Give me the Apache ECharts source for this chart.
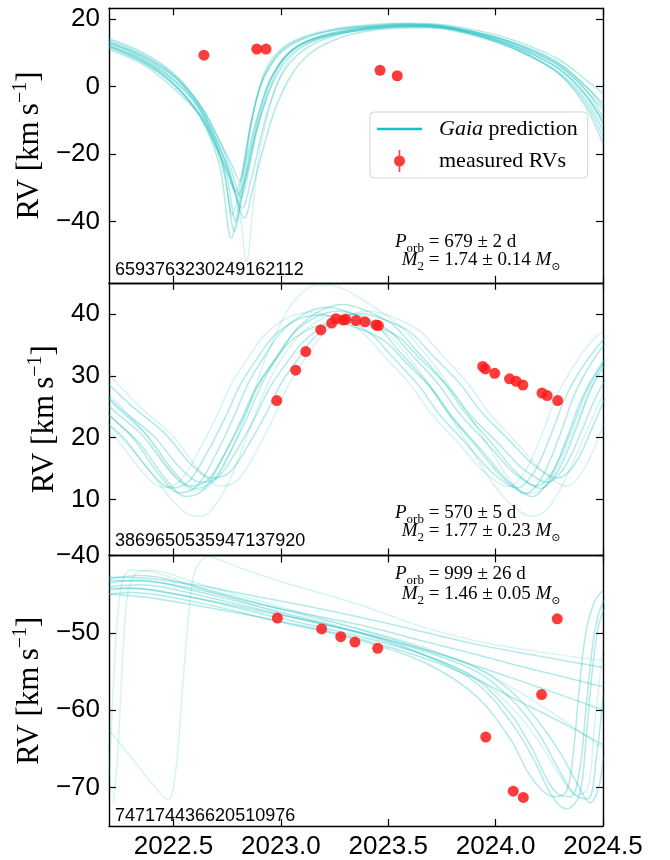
<!DOCTYPE html>
<html>
<head>
<meta charset="utf-8">
<script src="https://cdn.jsdelivr.net/npm/echarts@6/dist/echarts.min.js"></script>
<style>
html,body{margin:0;padding:0;background:#fff;}
#chart{width:670px;height:860px;}
</style>
</head>
<body>
<div id="chart"></div>
<script>
// ---------------- data ----------------
const xTicks = [2022.5, 2023.0, 2023.5, 2024.0, 2024.5];
const yTicks1 = [-40, -20, 0, 20];
const yTicks2 = [10, 20, 30, 40];
const yTicks3 = [-70, -60, -50, -40];
const sourceIds = ['6593763230249162112', '3869650535947137920', '747174436620510976'];
const porbText = ['679 ± 2', '570 ± 5', '999 ± 26'];
const m2Text = ['1.74 ± 0.14', '1.77 ± 0.23', '1.46 ± 0.05'];

// measured RVs [year, km/s]
const rv1 = [[2022.642,9.3],[2022.888,11.1],[2022.931,11.1],[2023.462,4.8],[2023.542,3.2]];
const rv2 = [[2022.981,26.0],[2023.069,30.9],[2023.116,33.9],[2023.186,37.4],[2023.237,38.5],[2023.257,39.2],
  [2023.291,39.0],[2023.303,39.1],[2023.35,38.9],[2023.392,38.7],[2023.443,38.2],[2023.454,38.1],
  [2023.94,31.5],[2023.952,31.1],[2023.996,30.4],[2024.065,29.5],[2024.096,29.1],[2024.127,28.5],
  [2024.216,27.2],[2024.24,26.8],[2024.289,26.0]];
const rv3 = [[2022.984,-48.1],[2023.19,-49.5],[2023.279,-50.5],[2023.345,-51.2],[2023.451,-52.0],
  [2023.954,-63.5],[2024.082,-70.5],[2024.129,-71.3],[2024.214,-58.0],[2024.287,-48.2]];

// Gaia prediction curves [year, km/s]
const gaia1 = [
  [[2022.2,12.9],[2022.36,8.4],[2022.515,1.5],[2022.624,-6.4],[2022.701,-16.3],[2022.755,-24.2],[2022.8,-32],[2022.84,-26.2],[2022.872,-16.3],[2022.911,-6.4],[2022.965,3.5],[2023.043,10.4],[2023.136,13.9],[2023.29,16.4],[2023.45,17.8],[2023.6,18.3],[2023.756,17.8],[2023.99,14.4],[2024.145,10.9],[2024.3,6.0],[2024.424,-1.4],[2024.5,-9]],
  [[2022.2,13.8],[2022.36,9.5],[2022.5,3.5],[2022.6,-4.5],[2022.68,-14],[2022.73,-23],[2022.775,-38],[2022.81,-30],[2022.84,-18],[2022.87,-8],[2022.92,2.5],[2023.0,10],[2023.1,14],[2023.25,16.8],[2023.45,18.2],[2023.6,18.6],[2023.75,18.1],[2023.98,15],[2024.15,11.5],[2024.3,6.8],[2024.42,0],[2024.5,-5]],
  [[2022.2,12.2],[2022.36,7.6],[2022.5,1],[2022.6,-6.5],[2022.67,-15],[2022.72,-25],[2022.77,-45],[2022.81,-33],[2022.85,-19],[2022.9,-7],[2022.95,2],[2023.03,9.5],[2023.13,13.5],[2023.3,16.4],[2023.5,17.8],[2023.65,18],[2023.8,17.2],[2024.0,14],[2024.15,10.3],[2024.3,5.2],[2024.42,-2.5],[2024.5,-11]],
  [[2022.2,11.6],[2022.36,7],[2022.5,0.5],[2022.62,-8],[2022.7,-18],[2022.76,-27],[2022.82,-36],[2022.86,-28],[2022.9,-17],[2022.94,-7],[2023.0,3],[2023.08,9.5],[2023.18,13.5],[2023.32,16.2],[2023.5,17.6],[2023.65,17.9],[2023.8,17],[2024.0,13.5],[2024.15,9.5],[2024.3,4],[2024.42,-4],[2024.5,-13]],
  [[2022.2,11],[2022.36,6.5],[2022.5,-0.5],[2022.63,-9],[2022.71,-19],[2022.77,-28],[2022.83,-39],[2022.87,-30],[2022.92,-18],[2022.975,-6.4],[2023.05,3.5],[2023.13,9.5],[2023.22,13],[2023.35,15.8],[2023.55,17.3],[2023.7,17.4],[2023.85,16.2],[2024.02,13],[2024.17,8.8],[2024.3,3.5],[2024.42,-5],[2024.5,-15]],
  [[2022.2,13.3],[2022.36,9],[2022.52,2.2],[2022.63,-6],[2022.71,-15.5],[2022.77,-23],[2022.81,-28],[2022.835,-22],[2022.86,-12],[2022.89,-3],[2022.93,4],[2023.0,10.5],[2023.1,14.2],[2023.26,16.8],[2023.45,18],[2023.6,18.4],[2023.76,17.9],[2023.99,14.8],[2024.15,11.3],[2024.3,6.5],[2024.43,-0.5],[2024.5,-6]],
  [[2022.2,12.5],[2022.36,8],[2022.515,1.2],[2022.63,-7],[2022.71,-17],[2022.77,-27],[2022.81,-38],[2022.84,-52],[2022.87,-36],[2022.9,-20],[2022.94,-8],[2022.99,2],[2023.06,9.5],[2023.15,13.4],[2023.3,16],[2023.5,17.6],[2023.65,17.8],[2023.8,16.9],[2024.0,13.8],[2024.15,10],[2024.3,4.8],[2024.42,-3],[2024.5,-11]],
  [[2022.2,12],[2022.36,7.8],[2022.51,1.2],[2022.62,-7],[2022.7,-17.5],[2022.75,-27],[2022.79,-40],[2022.825,-30],[2022.86,-18],[2022.9,-7.5],[2022.95,2],[2023.02,9],[2023.12,13.2],[2023.28,16],[2023.45,17.6],[2023.6,18],[2023.77,17.4],[2023.99,14],[2024.15,10.2],[2024.3,5],[2024.42,-2.5],[2024.5,-10]],
  [[2022.2,13],[2022.36,8.8],[2022.52,2],[2022.64,-7],[2022.72,-17],[2022.77,-25],[2022.815,-33],[2022.85,-25],[2022.885,-14],[2022.93,-4],[2022.985,5],[2023.06,11],[2023.16,14.5],[2023.3,16.8],[2023.48,18],[2023.62,18.3],[2023.78,17.6],[2024.0,14.6],[2024.15,11],[2024.3,6],[2024.42,-1],[2024.5,-7]],
  [[2022.2,11.8],[2022.36,7.2],[2022.5,0.8],[2022.61,-7.5],[2022.69,-17],[2022.74,-27],[2022.785,-43],[2022.82,-32],[2022.86,-20],[2022.91,-8],[2022.97,2],[2023.05,9.6],[2023.15,13.5],[2023.3,16],[2023.5,17.5],[2023.65,17.7],[2023.8,16.6],[2024.0,13.2],[2024.15,9.2],[2024.3,3.5],[2024.42,-6],[2024.5,-17]],
  [[2022.2,14.2],[2022.36,10],[2022.5,4],[2022.6,-3.5],[2022.68,-13],[2022.74,-22],[2022.79,-31],[2022.825,-24],[2022.855,-13],[2022.885,-4],[2022.93,5],[2023.0,11],[2023.1,14.6],[2023.26,17.2],[2023.45,18.5],[2023.6,18.8],[2023.76,18.3],[2023.99,15.5],[2024.15,12.2],[2024.3,7.8],[2024.43,1.5],[2024.5,-2]]
];
const gaia2 = [
  [[2022.0,32.5],[2022.2,25.1],[2022.36,20.2],[2022.48,14.8],[2022.58,12.2],[2022.66,13.2],[2022.75,18.1],[2022.83,23.5],[2022.9,28.8],[2022.98,33.1],[2023.06,36.9],[2023.17,39.6],[2023.27,40.4],[2023.37,39.6],[2023.5,37.4],[2023.6,33.7],[2023.73,28.8],[2023.83,24.0],[2023.96,19.1],[2024.07,14.8],[2024.15,12.7],[2024.19,12.2],[2024.27,14.8],[2024.35,21.0],[2024.42,27.2],[2024.5,32.0],[2024.6,36.5]],
  [[2021.91,32],[2022.11,24.8],[2022.27,19.9],[2022.39,14.6],[2022.49,11.9],[2022.57,12.9],[2022.66,17.8],[2022.74,23.2],[2022.81,28.5],[2022.89,32.8],[2022.97,36.5],[2023.08,39.1],[2023.18,39.8],[2023.28,39.1],[2023.41,37],[2023.51,33.4],[2023.64,28.5],[2023.74,23.7],[2023.87,18.8],[2023.98,14.5],[2024.06,12.4],[2024.1,11.9],[2024.18,14.5],[2024.26,20.7],[2024.33,26.9],[2024.41,31.7],[2024.51,36.2]],
  [[2021.95,32.8],[2022.15,25.3],[2022.31,20],[2022.43,14.2],[2022.53,11.1],[2022.61,12.2],[2022.7,17.5],[2022.78,23.3],[2022.85,28.9],[2022.93,33.5],[2023.01,37.4],[2023.12,40.2],[2023.22,41],[2023.32,40.2],[2023.45,37.9],[2023.55,34],[2023.68,28.9],[2023.78,23.9],[2023.91,18.6],[2024.02,14],[2024.1,11.6],[2024.14,11],[2024.22,13.9],[2024.3,20.5],[2024.37,27.2],[2024.45,32.3],[2024.55,37]],
  [[2022.05,31.8],[2022.25,24.8],[2022.41,20.2],[2022.53,15.2],[2022.63,12.8],[2022.71,13.7],[2022.8,18.3],[2022.88,23.3],[2022.95,28.2],[2023.03,32.2],[2023.11,35.7],[2023.22,38.3],[2023.32,39],[2023.42,38.3],[2023.55,36.2],[2023.65,32.7],[2023.78,28.2],[2023.88,23.7],[2024.01,19.2],[2024.12,15.2],[2024.2,13.3],[2024.24,12.8],[2024.32,15.2],[2024.4,21],[2024.47,26.8],[2024.55,31.4]],
  [[2022.1,32],[2022.3,25.3],[2022.46,20.7],[2022.58,15.8],[2022.68,13.5],[2022.76,14.4],[2022.85,18.9],[2022.93,23.8],[2023.0,28.7],[2023.08,32.7],[2023.16,36.3],[2023.27,39.2],[2023.37,40],[2023.47,39.2],[2023.6,37.1],[2023.7,33.5],[2023.83,28.9],[2023.93,24.3],[2024.06,19.7],[2024.17,15.8],[2024.25,13.9],[2024.29,13.5],[2024.37,15.8],[2024.45,21.6],[2024.52,27.3]],
  [[2021.98,31.8],[2022.18,24.3],[2022.34,19.2],[2022.46,13.5],[2022.56,10.5],[2022.64,11.6],[2022.73,16.8],[2022.81,22.5],[2022.88,27.8],[2022.96,31.9],[2023.04,35.4],[2023.15,37.8],[2023.25,38.5],[2023.35,37.8],[2023.48,35.7],[2023.58,32.2],[2023.71,27.6],[2023.81,22.9],[2023.94,17.8],[2024.05,13.3],[2024.13,11.1],[2024.17,10.5],[2024.25,13.3],[2024.33,19.8],[2024.4,26.3],[2024.48,31.3],[2024.58,35.8]],
  [[2022.02,33.2],[2022.22,25.5],[2022.38,20.3],[2022.5,14.6],[2022.6,11.8],[2022.68,12.9],[2022.77,18.1],[2022.85,23.8],[2022.92,29.3],[2023.0,33.8],[2023.08,37.8],[2023.19,40.6],[2023.29,41.5],[2023.39,40.6],[2023.52,38.3],[2023.62,34.5],[2023.75,29.4],[2023.85,24.4],[2023.98,19.2],[2024.09,14.6],[2024.17,12.3],[2024.21,11.8],[2024.29,14.6],[2024.37,21],[2024.44,27.5],[2024.52,32.5]],
  [[2022.2,27],[2022.36,21],[2022.5,14],[2022.6,11.5],[2022.68,12.5],[2022.77,18],[2022.85,25],[2022.93,33],[2023.0,38.5],[2023.06,42],[2023.17,44.7],[2023.27,44.3],[2023.37,42.5],[2023.5,39.5],[2023.6,36.5],[2023.73,31],[2023.85,25],[2023.96,19],[2024.06,13.5],[2024.14,11],[2024.2,11.3],[2024.27,14],[2024.35,20],[2024.43,27],[2024.5,32]],
  [[2022.2,22],[2022.36,16],[2022.48,10.5],[2022.56,7.8],[2022.62,7.3],[2022.68,8.5],[2022.76,13],[2022.85,21],[2022.95,29.5],[2023.06,35.5],[2023.18,39],[2023.3,40],[2023.4,39],[2023.52,36],[2023.64,31],[2023.76,25],[2023.88,18.5],[2023.99,12.5],[2024.08,9],[2024.17,7.3],[2024.24,8.5],[2024.32,13],[2024.41,20],[2024.5,27]],
  [[2021.87,32],[2022.07,25],[2022.23,20],[2022.35,14.7],[2022.45,12],[2022.53,13],[2022.62,18],[2022.7,23.4],[2022.77,28.7],[2022.85,33],[2022.93,36.8],[2023.04,39.5],[2023.14,40.3],[2023.24,39.5],[2023.37,37.3],[2023.47,33.6],[2023.6,28.7],[2023.7,23.9],[2023.83,19],[2023.94,14.7],[2024.02,12.6],[2024.06,12.1],[2024.14,14.7],[2024.22,20.9],[2024.29,27.1],[2024.37,31.9],[2024.47,36.4],[2024.6,38.5]],
  [[2022.14,32.5],[2022.34,25.1],[2022.5,20.2],[2022.62,14.8],[2022.72,12.2],[2022.8,13.2],[2022.89,18.1],[2022.97,23.5],[2023.04,28.8],[2023.12,33.1],[2023.2,36.9],[2023.31,39.6],[2023.41,40.4],[2023.51,39.6],[2023.64,37.4],[2023.74,33.7],[2023.87,28.8],[2023.97,24.0],[2024.1,19.1],[2024.21,14.8],[2024.29,12.7],[2024.33,12.2],[2024.41,14.8],[2024.49,21],[2024.56,27.2]]
];
const gaia3 = [
  [[2022.2,-42.8],[2022.4,-43],[2022.98,-45.8],[2023.37,-48],[2023.68,-50],[2023.91,-51.5],[2024.2,-53],[2024.5,-54.5]],
  [[2022.2,-43.2],[2022.4,-43.4],[2022.98,-46.8],[2023.37,-49],[2023.68,-51.2],[2023.91,-52.8],[2024.07,-54],[2024.3,-55.6],[2024.5,-57]],
  [[2022.2,-44.2],[2022.4,-44.5],[2022.98,-47.6],[2023.37,-50],[2023.68,-52.3],[2023.91,-54.3],[2024.07,-55.8],[2024.3,-58],[2024.5,-60]],
  [[2022.2,-45],[2022.4,-45.5],[2022.98,-48.4],[2023.37,-50.8],[2023.68,-53.4],[2023.91,-56],[2024.07,-58.3],[2024.3,-61.5],[2024.5,-64.5]],
  [[2022.2,-44.5],[2022.3,-44.2],[2022.6,-45.5],[2022.98,-48],[2023.37,-50.5],[2023.68,-53],[2023.91,-56],[2024.07,-60.5],[2024.17,-65],[2024.25,-69.5],[2024.3,-71],[2024.35,-71.2],[2024.39,-68],[2024.42,-60],[2024.45,-52],[2024.48,-47.5],[2024.52,-45]],
  [[2022.2,-45],[2022.3,-44.8],[2022.6,-46],[2022.98,-48.5],[2023.37,-51],[2023.68,-54],[2023.91,-58.2],[2024.07,-63.8],[2024.15,-68],[2024.22,-70.5],[2024.28,-71.2],[2024.33,-70.5],[2024.36,-66],[2024.39,-57],[2024.42,-50],[2024.46,-46],[2024.5,-44.5]],
  [[2022.2,-44],[2022.35,-43.8],[2022.6,-45],[2022.98,-47.5],[2023.37,-50],[2023.68,-52.5],[2023.91,-55],[2024.07,-58.5],[2024.2,-63],[2024.3,-68],[2024.37,-71],[2024.43,-71.5],[2024.47,-66],[2024.5,-58]],
  [[2022.2,-43.5],[2022.35,-43.2],[2022.6,-44.6],[2022.98,-47.2],[2023.37,-50],[2023.68,-53],[2023.91,-56.5],[2024.07,-61.5],[2024.18,-66.5],[2024.26,-71],[2024.33,-72.8],[2024.39,-71],[2024.42,-64],[2024.45,-55],[2024.48,-49],[2024.52,-46]],
  [[2022.2,-43],[2022.35,-42.6],[2022.6,-44],[2022.98,-46.8],[2023.37,-49.6],[2023.68,-52.2],[2023.91,-54.5],[2024.07,-57.5],[2024.2,-61.5],[2024.3,-65.5],[2024.38,-69.5],[2024.44,-72],[2024.48,-70],[2024.5,-66]],
  [[2022.19,-72],[2022.205,-66],[2022.22,-57],[2022.24,-48],[2022.265,-43],[2022.3,-41.9],[2022.38,-42],[2022.6,-44],[2022.98,-47.3],[2023.37,-50.2],[2023.68,-53],[2023.91,-55.8],[2024.07,-59.5],[2024.2,-64],[2024.3,-68.5],[2024.38,-71],[2024.43,-70],[2024.46,-62],[2024.5,-52]],
  [[2022.22,-72],[2022.24,-66],[2022.255,-58],[2022.27,-50],[2022.29,-44.5],[2022.33,-42.2],[2022.4,-41.9],[2022.6,-43.5],[2022.98,-46.5],[2023.37,-49.5],[2023.68,-52],[2023.91,-54.5],[2024.07,-57],[2024.3,-61],[2024.5,-65]],
  [[2022.2,-62.6],[2022.3,-66],[2022.4,-69.5],[2022.475,-71.6],[2022.51,-68],[2022.54,-58],[2022.57,-48],[2022.6,-42],[2022.66,-40.2],[2022.8,-41.5],[2022.98,-43.2],[2023.37,-46.4],[2023.68,-49.4],[2023.99,-51.5],[2024.5,-53.6]]
];
// curves drawn fainter (single outliers)
const faint = [[6], [7, 8, 9, 10], [9, 10, 11]];

// ---------------- chart ----------------
const TEAL = '#1cbfbf';
const RED = '#ff1a1a';
const curveSets = [gaia1, gaia2, gaia3];
const rvSets = [rv1, rv2, rv3];
const yTickSets = [yTicks1, yTicks2, yTicks3];
const yMin = [-58.2, 1.0, -75.0];
const yMax = [23.2, 45.0, -40.0];
const gridTop = [8.3, 282.8, 555.5];
const gridH = [274.5, 272.7, 274];
const nameGaps = [58, 44, 58];
const fmtY = v => (v < 0 ? '\u2212' : '') + Math.abs(v);

const grids = [], xAxes = [], yAxes = [], series = [];
const axisLineStyle = {color: '#000', width: 1.4};
const tickStyle = {color: '#000', width: 1.2};
for (let i = 0; i < 3; i++) {
  grids.push({left: 109, width: 494, top: gridTop[i], height: gridH[i], containLabel: false});
}
for (let i = 0; i < 3; i++) {
  xAxes.push({type: 'value', gridIndex: i, position: 'bottom', min: 2022.2, max: 2024.5,
    axisLine: {show: true, onZero: false, lineStyle: axisLineStyle},
    axisTick: {show: true, inside: true, length: 7, customValues: xTicks, lineStyle: tickStyle},
    axisLabel: {show: i === 2, customValues: xTicks, formatter: v => v.toFixed(1),
      fontFamily: 'Liberation Sans', fontSize: 26, color: '#000', margin: 8},
    splitLine: {show: false}});
}
for (let i = 0; i < 3; i++) {
  xAxes.push({type: 'value', gridIndex: i, position: 'top', min: 2022.2, max: 2024.5,
    axisLine: {show: true, onZero: false, lineStyle: axisLineStyle},
    axisTick: {show: true, inside: true, length: 7, customValues: xTicks, lineStyle: tickStyle},
    axisLabel: {show: false}, splitLine: {show: false}});
}
const nameRich = {
  n: {fontFamily: 'Liberation Serif', fontSize: 31, color: '#000', lineHeight: 38},
  s: {fontFamily: 'Liberation Serif', fontSize: 20, color: '#000', verticalAlign: 'top'}
};
for (let i = 0; i < 3; i++) {
  yAxes.push({type: 'value', gridIndex: i, position: 'left', min: yMin[i], max: yMax[i],
    axisLine: {show: true, onZero: false, lineStyle: axisLineStyle},
    axisTick: {show: true, inside: true, length: 7, customValues: yTickSets[i], lineStyle: tickStyle},
    axisLabel: {show: true, customValues: yTickSets[i], formatter: fmtY,
      fontFamily: 'Liberation Sans', fontSize: 26, color: '#000', margin: 9},
    splitLine: {show: false},
    name: '{n|RV [km\u2009s}{s|\u22121}{n|]}', nameLocation: 'middle', nameRotate: 90, nameGap: nameGaps[i],
    nameTextStyle: {rich: nameRich}});
}
for (let i = 0; i < 3; i++) {
  yAxes.push({type: 'value', gridIndex: i, position: 'right', min: yMin[i], max: yMax[i],
    axisLine: {show: true, onZero: false, lineStyle: axisLineStyle},
    axisTick: {show: true, inside: true, length: 7, customValues: yTickSets[i], lineStyle: tickStyle},
    axisLabel: {show: false}, splitLine: {show: false}});
}
for (let i = 0; i < 3; i++) {
  curveSets[i].forEach((c, k) => {
    const op = faint[i].includes(k) ? 0.18 : 0.34;
    series.push({type: 'line', name: 'Gaia prediction', xAxisIndex: i, yAxisIndex: i, data: c,
      smooth: 0.35, symbol: 'none', silent: true, clip: true, z: 2,
      lineStyle: {color: TEAL, width: 1.5, opacity: op}, itemStyle: {color: TEAL},
      emphasis: {disabled: true}});
  });
}
for (let i = 0; i < 3; i++) {
  series.push({type: 'scatter', name: 'measured RVs', xAxisIndex: i, yAxisIndex: i, data: rvSets[i],
    symbol: 'circle', symbolSize: 11, silent: true, z: 5,
    itemStyle: {color: RED, opacity: 0.85}, emphasis: {disabled: true}});
}

const ERR_ICON = 'path://M-0.8,-11L0.8,-11L0.8,11L-0.8,11Z M5.5,0A5.5,5.5,0,1,1,-5.5,0A5.5,5.5,0,1,1,5.5,0Z';
const LINE_ICON = 'path://M0,0L45,0L45,2.6L0,2.6Z';

const annRich = {
  i: {fontFamily: 'Liberation Serif', fontStyle: 'italic', fontSize: 19, lineHeight: 26, fill: '#000'},
  n: {fontFamily: 'Liberation Serif', fontSize: 19, lineHeight: 26, fill: '#000'},
  s: {fontFamily: 'Liberation Serif', fontSize: 13, verticalAlign: 'bottom', fill: '#000'},
  o: {fontFamily: 'DejaVu Serif', fontSize: 11, verticalAlign: 'bottom', fill: '#000'}
};
const idY = [270, 541.5, 816];
const pY = [242.3, 513.3, 573.7];
const mY = [259.7, 531, 593.7];
const graphics = [];
for (let i = 0; i < 3; i++) {
  graphics.push({type: 'text', x: 115, y: idY[i], z: 10,
    style: {text: sourceIds[i], font: '18px "Liberation Sans"', fill: '#000', verticalAlign: 'middle'}});
  graphics.push({type: 'text', x: 395, y: pY[i], z: 10,
    style: {text: '{i|P}{s|orb}{n| = ' + porbText[i] + ' d}', rich: annRich, verticalAlign: 'middle'}});
  graphics.push({type: 'text', x: 401.7, y: mY[i], z: 10,
    style: {text: '{i|M}{s|2}{n| = ' + m2Text[i] + ' }{i|M}{o|\u2299}', rich: annRich, verticalAlign: 'middle'}});
}

const option = {
  animation: false,
  backgroundColor: '#fff',
  grid: grids, xAxis: xAxes, yAxis: yAxes, series: series,
  legend: {
    show: true, orient: 'vertical', left: 370, top: 112, padding: [4, 10, 4, 7], itemGap: 6,
    itemWidth: 45, itemHeight: 22, symbolKeepAspect: true, selectedMode: false,
    backgroundColor: '#fff', borderColor: '#d4d4d4', borderWidth: 1, borderRadius: 4,
    textStyle: {fontFamily: 'Liberation Serif', fontSize: 22, color: '#000', lineHeight: 26, padding: [0, 0, 0, 12],
      rich: {i: {fontFamily: 'Liberation Serif', fontStyle: 'italic', fontSize: 22, lineHeight: 26, color: '#000'}}},
    formatter: n => n === 'Gaia prediction' ? '{i|Gaia} prediction' : n,
    data: [
      {name: 'Gaia prediction', icon: LINE_ICON, itemStyle: {color: TEAL, opacity: 1}},
      {name: 'measured RVs', icon: ERR_ICON, itemStyle: {color: RED, opacity: 0.85}}
    ]
  },
  graphic: graphics
};
const chart = echarts.init(document.getElementById('chart'), null, {renderer: 'canvas'});
chart.setOption(option);
</script>
</body>
</html>
